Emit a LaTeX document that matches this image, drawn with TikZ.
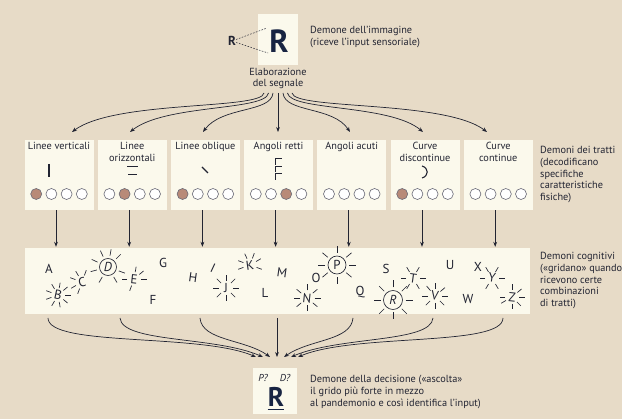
\documentclass[tikz,border=0pt]{standalone}
\usepackage{fontspec}
\setmainfont{PT Sans}
\usetikzlibrary{arrows.meta}
\definecolor{bg}{RGB}{231,219,199}
\definecolor{boxc}{RGB}{251,249,236}
\definecolor{ink}{RGB}{34,36,50}
\definecolor{rnavy}{RGB}{24,36,66}
\definecolor{dotfill}{RGB}{184,138,120}
\definecolor{dotline}{RGB}{105,105,118}
\newcommand\burst[4]{\foreach \a in {#4}{\draw[rayln] (#1.center) ++(\a:#2) -- ++(\a:#3);}}
\begin{document}
\begin{tikzpicture}[x=1pt,y=-1pt,
  every node/.style={text=ink, font=\fontsize{10.3}{11.8}\selectfont, inner sep=0pt},
  panel/.style={fill=boxc, draw=none},
  lbl/.style={align=left, anchor=north west},
  arr/.style={draw=ink, line width=0.7pt, -{Stealth[length=5pt,width=3.8pt]}},
  bulb/.style={circle, draw=dotline, line width=0.6pt, fill=white, minimum size=11pt},
  lit/.style={fill=dotfill},
  ltr/.style={font=\fontsize{13}{13}\selectfont},
  rayln/.style={draw=ink, line width=0.65pt},
  sym/.style={draw=ink, line width=1.2pt},
]
\useasboundingbox (0,0) rectangle (622,419);
\fill[bg] (0,0) rectangle (622,419);

% ---------- top: image demon ----------
\node[panel, minimum width=40pt, minimum height=51pt] (topbox) at (278,39.5) {};
\node[text=rnavy, font=\fontsize{32}{32}\bfseries\selectfont] (bigR) at (279,41) {R};
\node[font=\fontsize{13}{13}\bfseries\selectfont] (smallR) at (232,41) {R};
\coordinate (dt) at (267,28);
\coordinate (db) at (268,53);
\draw[ink, line width=0.5pt, dash pattern=on 1.6pt off 1.4pt] (smallR.20) -- (dt);
\draw[ink, line width=0.5pt, dash pattern=on 1.6pt off 1.4pt] (smallR.-20) -- (db);
\node[lbl] (imgl) at (310,26) {Demone dell’immagine\\(riceve l’input sensoriale)};
\node[align=center] (elab) at (278,78.5) {Elaborazione\\del segnale};

% ---------- feature demons ----------
\foreach \i/\cx in {1/59,2/132.2,3/205.4,4/278.6,5/351.8,6/425,7/498.2}{
  \node[panel, minimum width=69pt, minimum height=70pt] (f\i) at (\cx,175) {};
}
\node[anchor=north, align=center] (t1) at (f1.north |- 0,142) {Linee verticali};
\node[anchor=north, align=center] (t2) at (f2.north |- 0,142) {Linee\\orizzontali};
\node[anchor=north, align=center] (t3) at (f3.north |- 0,142) {Linee oblique};
\node[anchor=north, align=center] (t4) at (f4.north |- 0,142) {Angoli retti};
\node[anchor=north, align=center] (t5) at (f5.north |- 0,142) {Angoli acuti};
\node[anchor=north, align=center] (t6) at (f6.north |- 0,142) {Curve\\discontinue};
\node[anchor=north, align=center] (t7) at (f7.north |- 0,142) {Curve\\continue};

% symbols
\draw[sym] (49,164) -- (49,177);
\draw[sym, line width=1pt] (127,167) -- (138,167);
\draw[sym, line width=1pt] (128,175) -- (137,175);
\draw[sym] (202,167) -- (208,173);
\foreach \y in {159,166.5,174}{\draw[sym, line width=1pt] (275.5,\y+6) -- (275.5,\y) -- (281.5,\y);}
\draw[sym, line width=1.1pt] (422,166) .. controls (429,168) and (429,176) .. (422,178);

% circles
\foreach \i/\on in {1/1,2/2,3/1,4/3,5/0,6/1,7/0}{
  \foreach \k in {1,2,3,4}{
    \ifnum\k=\on
      \node[bulb, lit] (c\i\k) at ([xshift=(\k-2.5)*15.2pt, yshift=-19pt]f\i.center) {};
    \else
      \node[bulb] (c\i\k) at ([xshift=(\k-2.5)*15.2pt, yshift=-19pt]f\i.center) {};
    \fi
  }
}
\node[lbl] (featl) at (540,146) {Demoni dei tratti\\(decodificano\\specifiche\\caratteristiche\\fisiche)};

% top fan arrows
\coordinate (s1) at (264,93); \coordinate (s2) at (268.5,93); \coordinate (s3) at (273,93);
\coordinate (s4) at (278,93); \coordinate (s5) at (283,93); \coordinate (s6) at (287.5,93);
\coordinate (s7) at (292,93);
\coordinate (e1) at (72,132); \coordinate (e2) at (130,132); \coordinate (e3) at (203,132);
\coordinate (e4) at (278,132); \coordinate (e5) at (350,132); \coordinate (e6) at (423,132);
\coordinate (e7) at (487,132);
\draw[arr] (s1) .. controls (262,110) and (115,100) .. (e1);
\draw[arr] (s2) .. controls (266,111) and (165,104) .. (e2);
\draw[arr] (s3) .. controls (271,113) and (222,106) .. (e3);
\draw[arr] (s4) -- (e4);
\draw[arr] (s5) .. controls (285,113) and (333,106) .. (e5);
\draw[arr] (s6) .. controls (290,111) and (390,104) .. (e6);
\draw[arr] (s7) .. controls (294,110) and (445,100) .. (e7);

% ---------- cognitive demons ----------
\node[panel, minimum width=505pt, minimum height=66pt] (cog) at (277.5,281) {};
\foreach \i in {1,...,7}{
  \draw[arr] ([xshift=-3pt]f\i.south) -- ([xshift=-3pt, yshift=1pt]f\i.south |- cog.north);
}
\node[lbl] (cogl) at (540,252) {Demoni cognitivi\\(«gridano» quando\\ricevono certe\\combinazioni\\di tratti)};

\node[ltr] (LA) at (49,269) {A};
\node[ltr, rotate=-12] (LB) at (58,295) {B};
\node[ltr, rotate=12] (LC) at (82,282) {C};
\node[ltr] (LD) at (108,267) {\itshape D};
\node[ltr, rotate=-6] (LE) at (134,279) {E};
\node[ltr] (LF) at (153,300) {F};
\node[ltr] (LG) at (163,263) {G};
\node[ltr, rotate=-8] (LH) at (193,278) {H};
\node[ltr, rotate=-25] (LI) at (213,268) {I};
\node[ltr] (LJ) at (226,288) {J};
\node[ltr, rotate=8] (LK) at (250,265) {K};
\node[ltr] (LL) at (265,293) {L};
\node[ltr, rotate=-8] (LM) at (282,273) {M};
\node[ltr, rotate=-6] (LN) at (307,298) {N};
\node[ltr] (LO) at (316,278) {O};
\node[ltr] (LP) at (337,265) {P};
\node[ltr] (LQ) at (360,292) {Q};
\node[ltr] (LR) at (393,300) {\itshape R};
\node[ltr] (LS) at (386,269) {S};
\node[ltr, rotate=-8] (LT) at (413,278) {T};
\node[ltr] (LU) at (450,265) {U};
\node[ltr, rotate=-8] (LV) at (435,296) {V};
\node[ltr] (LW) at (468,299) {W};
\node[ltr] (LX) at (478,267) {X};
\node[ltr, rotate=-8] (LY) at (492,278) {Y};
\node[ltr, rotate=-6] (LZ) at (512,297) {Z};

\draw[rayln] (LD.center) circle (8.5);
\draw[rayln] (LP.center) circle (9);
\draw[rayln] (LR.center) circle (9.5);

\burst{LB}{7}{5.5}{0,40,80,120,160,200,240,280,320}
\burst{LC}{7}{5.5}{110,150,200,240,290}
\burst{LD}{11.5}{6.5}{165,205,245,280,315,20,60,120}
\burst{LE}{7}{5.5}{0,180,280,320,110}
\burst{LJ}{7}{6}{0,45,90,135,180,225,270,315}
\burst{LK}{7}{5.5}{200,245,290,330,20,160}
\burst{LN}{7.5}{6}{0,40,90,140,180,220,270,320}
\burst{LP}{12}{7}{0,40,90,140,180,220,270,320}
\burst{LT}{7}{5.5}{0,60,120,180,240,300}
\burst{LR}{12.5}{7}{0,45,90,135,180,225,270,315}
\burst{LV}{7}{6}{0,45,90,135,180,230,270,320}
\burst{LY}{7}{5.5}{0,60,120,180,240,300}
\burst{LZ}{7}{5.5}{0,45,90,150,180,270,320}

% ---------- decision demon ----------
\node[panel, minimum width=44pt, minimum height=46pt] (decbox) at (275,391) {};
\foreach \i/\x/\y in {1/48/256,2/120/263,3/200/270,4/277/277,5/353/284,6/433/291,7/503/298}{
  \coordinate (b\i) at (\x,318);
  \coordinate (d\i) at (\y,357);
}
\draw[arr] (b1) .. controls (48,347) and (200,333) .. (d1);
\draw[arr] (b2) .. controls (122,343) and (215,336) .. (d2);
\draw[arr] (b3) .. controls (202,341) and (245,339) .. (d3);
\draw[arr] (b4) -- (d4);
\draw[arr] (b5) .. controls (351,341) and (310,339) .. (d5);
\draw[arr] (b6) .. controls (431,343) and (340,336) .. (d6);
\draw[arr] (b7) .. controls (503,347) and (355,333) .. (d7);

\node[font=\fontsize{10}{10}\itshape\selectfont] (pq) at (263,378) {P?};
\node[font=\fontsize{10}{10}\itshape\selectfont] (dq) at (285,378) {D?};
\node[text=rnavy, font=\fontsize{27}{27}\bfseries\selectfont] (decR) at (276,397) {R};
\draw[rnavy, line width=1.1pt] ([yshift=-3pt]decR.south west) -- ([yshift=-3pt]decR.south east);
\node[lbl] (decl) at (310,375) {Demone della decisione («ascolta»\\il grido più forte in mezzo\\al pandemonio e così identifica l’input)};
\end{tikzpicture}
\end{document}
